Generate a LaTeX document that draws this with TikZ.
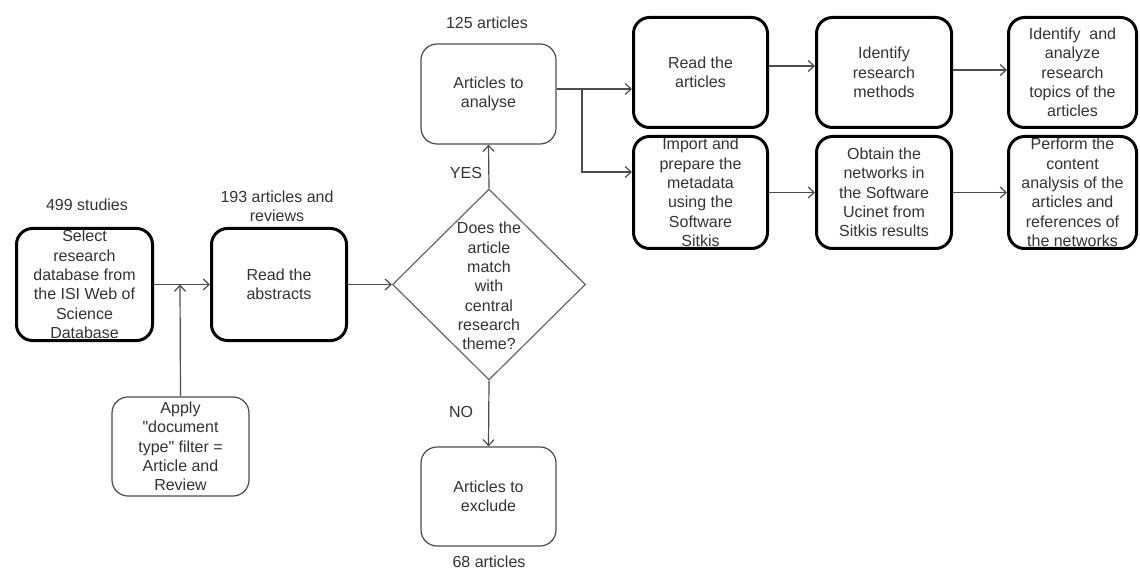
\documentclass[tikz,border=0pt]{standalone}
\usepackage{fontspec}
\setmainfont{Liberation Sans}[Ligatures=TeXOff]
\usetikzlibrary{arrows.meta,shapes.geometric}
\begin{document}
\begin{tikzpicture}[x=1pt,y=-1pt,
  every node/.style={font=\fontsize{16}{19.3}\selectfont, text=black!80, align=center, inner sep=0pt},
  tbox/.style={draw=black, line width=3pt, rounded corners=16pt},
  nbox/.style={draw=black!70, line width=1.2pt, rounded corners=16pt},
  arr/.style={draw=black!70, line width=1.2pt, -{Straight Barb[length=6pt,width=11pt,line width=1.2pt]}},
  lab/.style={text=black!80}
]
\useasboundingbox[fill=white] (0,0) rectangle (1140,569);

% boxes
\node[tbox, minimum width=136, minimum height=112] (sel) at (84.5,284.5) {Select\\research\\database from\\the ISI Web of\\Science\\Database};
\node[tbox, minimum width=135, minimum height=112] (abs) at (279,284.5) {Read the\\abstracts};
\node[nbox, minimum width=137, minimum height=99] (app) at (180.5,446.5) {Apply\\"document\\type" filter =\\Article and\\Review};
\node[draw=black!60, line width=1.2pt, diamond, minimum width=193, minimum height=191, inner sep=0pt] (dec) at (489,284.5) {};
\node (dect) at (489,286) {Does the\\article\\match\\with\\central\\research\\theme?};
\node[nbox, minimum width=135, minimum height=100] (ana) at (488.5,94) {Articles to\\analyse};
\node[nbox, minimum width=135, minimum height=99] (exc) at (488.5,496.5) {Articles to\\exclude};
\node[tbox, minimum width=134, minimum height=110] (rart) at (700.5,72.5) {Read the\\articles};
\node[tbox, minimum width=134, minimum height=112] (imp) at (700.5,192.5) {Import and\\prepare the\\metadata\\using the\\Software\\Sitkis};
\node[tbox, minimum width=135, minimum height=110] (idm) at (884,72.5) {Identify\\research\\methods};
\node[tbox, minimum width=135, minimum height=112] (obt) at (884,192.5) {Obtain the\\networks in\\the Software\\Ucinet from\\Sitkis results};
\node[tbox, minimum width=128, minimum height=110] (ida) at (1072.5,72.5) {Identify~ and\\analyze\\research\\topics of the\\articles};
\node[tbox, minimum width=128, minimum height=112] (per) at (1072.5,192.5) {Perform the\\content\\analysis of the\\articles and\\references of\\the networks};

% labels
\node[lab] (l499) at (87,205) {499 studies};
\node[lab] (l193) at (277,206) {193 articles and\\reviews};
\node[lab] (l125) at (487,23) {125 articles};
\node[lab] (l68) at (489,562) {68 articles};
\node[lab] (lyes) at (466,173) {YES};
\node[lab] (lno) at (461,412) {NO};

% connector helpers
\coordinate (j1) at (180,284.5);
\coordinate (a1) at (0,89);
\coordinate (br) at (582,89);
\coordinate (b2) at (0,172);
\coordinate (r1) at (0,66);
\coordinate (r2) at (0,70);

% connectors
\draw[arr] (sel.east) -- (abs.west);
\draw[arr] (app.north) -- (j1);
\draw[arr] (abs.east) -- (dec.west);
\draw[arr] (dec.north) -- (ana.south);
\draw[arr] (dec.south) -- (exc.north);
\draw[arr] (ana.east |- a1) -- (rart.west |- a1);
\draw[arr] (br) |- (imp.west |- b2);
\draw[arr] (rart.east |- r1) -- (idm.west |- r1);
\draw[arr] (idm.east |- r2) -- (ida.west |- r2);
\draw[arr] (imp.east) -- (obt.west);
\draw[arr] (obt.east) -- (per.west);
\end{tikzpicture}
\end{document}
